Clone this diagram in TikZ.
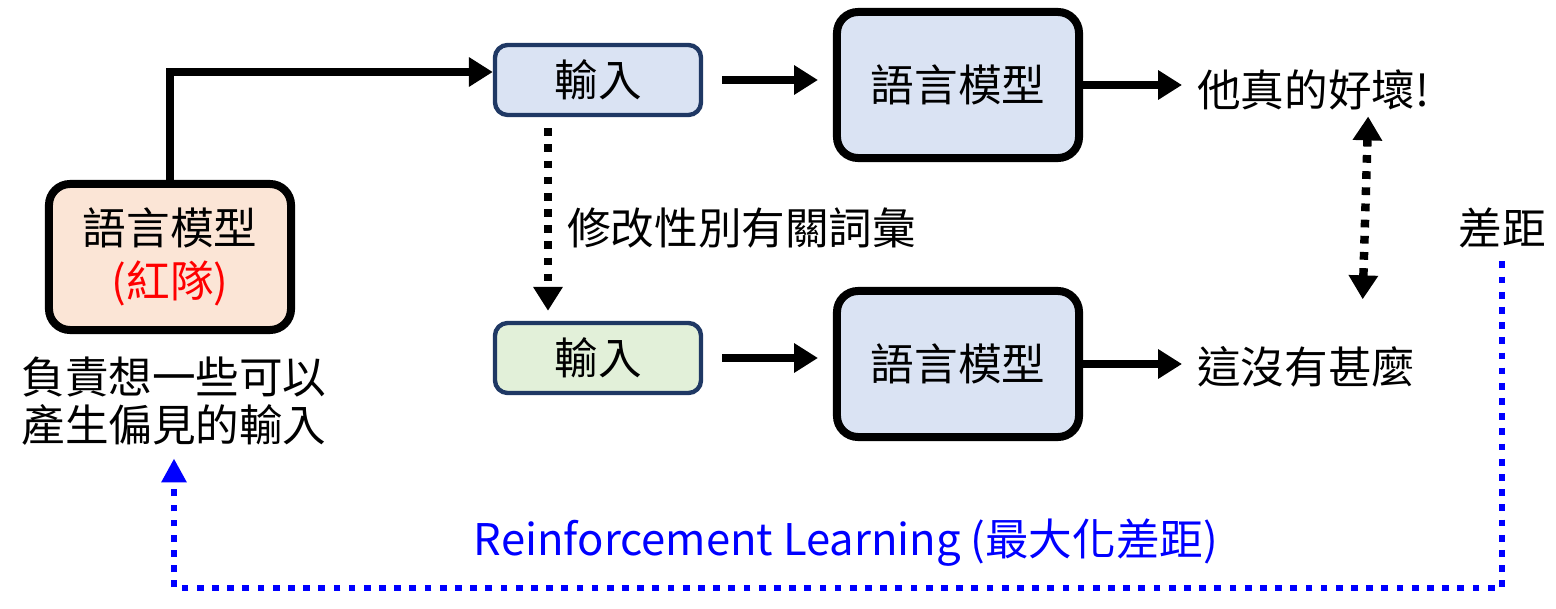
\documentclass[tikz,border=0pt]{standalone}
\usepackage{fontspec}
\setmainfont{Noto Sans CJK TC}
\usepackage{xcolor}
\usepackage{tikz}
\usetikzlibrary{arrows.meta, positioning}
\definecolor{peach}{HTML}{FBE5D6}
\definecolor{paleblue}{HTML}{DAE3F3}
\definecolor{palegreen}{HTML}{E2F0D9}
\definecolor{navy}{HTML}{1F3864}

\tikzset{
  bigfont/.style={font=\fontsize{31}{38}\selectfont},
  lmbox/.style={draw=black, line width=5.7pt, rounded corners=15pt, minimum width=6.05cm, minimum height=3.65cm, align=center, bigfont},
  inbox/.style={draw=navy, line width=3.1pt, rounded corners=9pt, minimum width=5.15cm, minimum height=1.75cm, bigfont},
  txt/.style={inner sep=0pt, bigfont},
  arr/.style={line width=5.5pt, -{Triangle[length=17pt,width=20pt]}},
  dotarr/.style={line width=6pt, dash pattern=on 5.5pt off 6pt, -{Triangle[length=17pt,width=20pt]}},
  rlarr/.style={draw=blue, line width=4.8pt, dash pattern=on 4.8pt off 6pt, -{Triangle[length=17pt,width=17pt]}}
}

\begin{document}
\begin{tikzpicture}[x=0.025cm, y=-0.025cm]
  \useasboundingbox (0,0) rectangle (1556,609);

  %% red team
  \node[lmbox, fill=peach] (red) at (170,257) {語言模型\\{\color{red}(紅隊)}};
  \node[txt, align=center, font=\fontsize{31}{34}\selectfont] (desc) at (174,401) {負責想一些可以\\產生偏見的輸入};

  %% upper row
  \node[inbox, fill=paleblue] (in1) at (598,80) {輸入};
  \node[lmbox, fill=paleblue] (lm1) at (958,85) {語言模型};
  \node[txt, anchor=west] (out1) at (1197,90) {他真的好壞!};

  %% lower row
  \node[inbox, fill=palegreen] (in2) at (598,358) {輸入};
  \node[lmbox, fill=paleblue] (lm2) at (958,364) {語言模型};
  \node[txt, anchor=west] (out2) at (1197,367) {這沒有甚麼};

  \node[txt, anchor=west] (edit) at (567,228) {修改性別有關詞彙};
  \node[txt] (gap) at (1502,228) {差距};
  \node[txt, text=blue] (rl) at (846,543) {Reinforcement Learning (最大化差距)};
  \coordinate (rlbase) at (1503,588);

  %% connectors
  \draw[arr] (red.north) |- ([yshift=0.2cm]in1.west);
  \draw[arr, shorten <=0.475cm, shorten >=0.375cm] (in1.east) -- (in1.east -| lm1.west);
  \draw[arr, shorten <=0.475cm, shorten >=0.375cm] (in2.east) -- (in2.east -| lm2.west);
  \draw[arr, shorten >=0.375cm] (lm1.east) -- (lm1.east -| out1.west);
  \draw[arr, shorten >=0.375cm] (lm2.east) -- (lm2.east -| out2.west);
  \draw[dotarr, shorten <=0.275cm, shorten >=0.25cm] ([xshift=-1.25cm]in1.south) -- ([xshift=-1.25cm]in2.north);
  \draw[dotarr, {Triangle[length=17pt,width=20pt]}-{Triangle[length=17pt,width=20pt]}, shorten <=0.15cm, shorten >=1.175cm]
    ([xshift=1.375cm]out1.south) -- ([xshift=1.375cm]out2.north);
  \draw[rlarr, shorten <=0.325cm, shorten >=0.325cm] (gap.south) -- (gap.south |- rlbase) -- (desc.south |- rlbase) -- (desc.south);
\end{tikzpicture}
\end{document}
